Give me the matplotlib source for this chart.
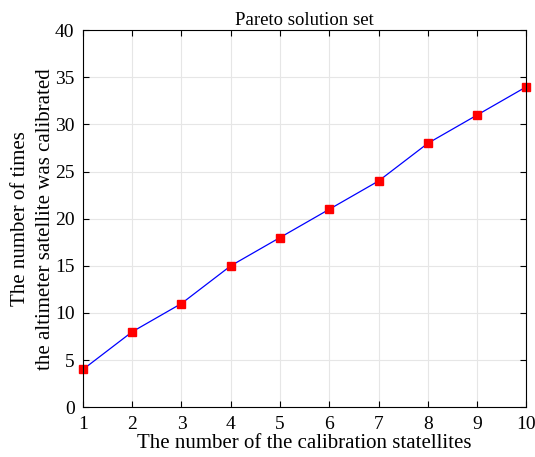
import matplotlib
matplotlib.use('Agg')
import matplotlib.pyplot as plt

# data
n_sats = [1, 2, 3, 4, 5, 6, 7, 8, 9, 10]
n_calibrated = [4, 8, 11, 15, 18, 21, 24, 28, 31, 34]

plt.rcParams['font.family'] = ['Liberation Serif', 'DejaVu Serif']
plt.rcParams['font.size'] = 13

fig = plt.figure(figsize=(5.35, 4.57), dpi=100)
ax = fig.add_axes([0.155, 0.109, 0.829, 0.825])

ax.plot(n_sats, n_calibrated, color='blue', linewidth=0.9, clip_on=False,
        marker='s', markersize=6, markerfacecolor='red', markeredgecolor='red')

ax.set_xlim(1, 10)
ax.set_ylim(0, 40)
ax.set_xticks(range(1, 11))
ax.set_yticks(range(0, 41, 5))
ax.grid(True, color='#e6e6e6', linewidth=0.8)
ax.set_axisbelow(True)
ax.tick_params(direction='in', top=True, right=True, length=4, labelsize=14, pad=6)
for s in ax.spines.values():
    s.set_linewidth(0.8)

ax.set_title('Pareto solution set', fontsize=13.5, pad=4)
ax.set_xlabel('The number of the calibration statellites', fontsize=15, labelpad=1)
ax.set_ylabel('The number of times\nthe altimeter satellite was calibrated', fontsize=15,
              labelpad=0, linespacing=1.4)

fig.savefig('out.png', dpi=100)
